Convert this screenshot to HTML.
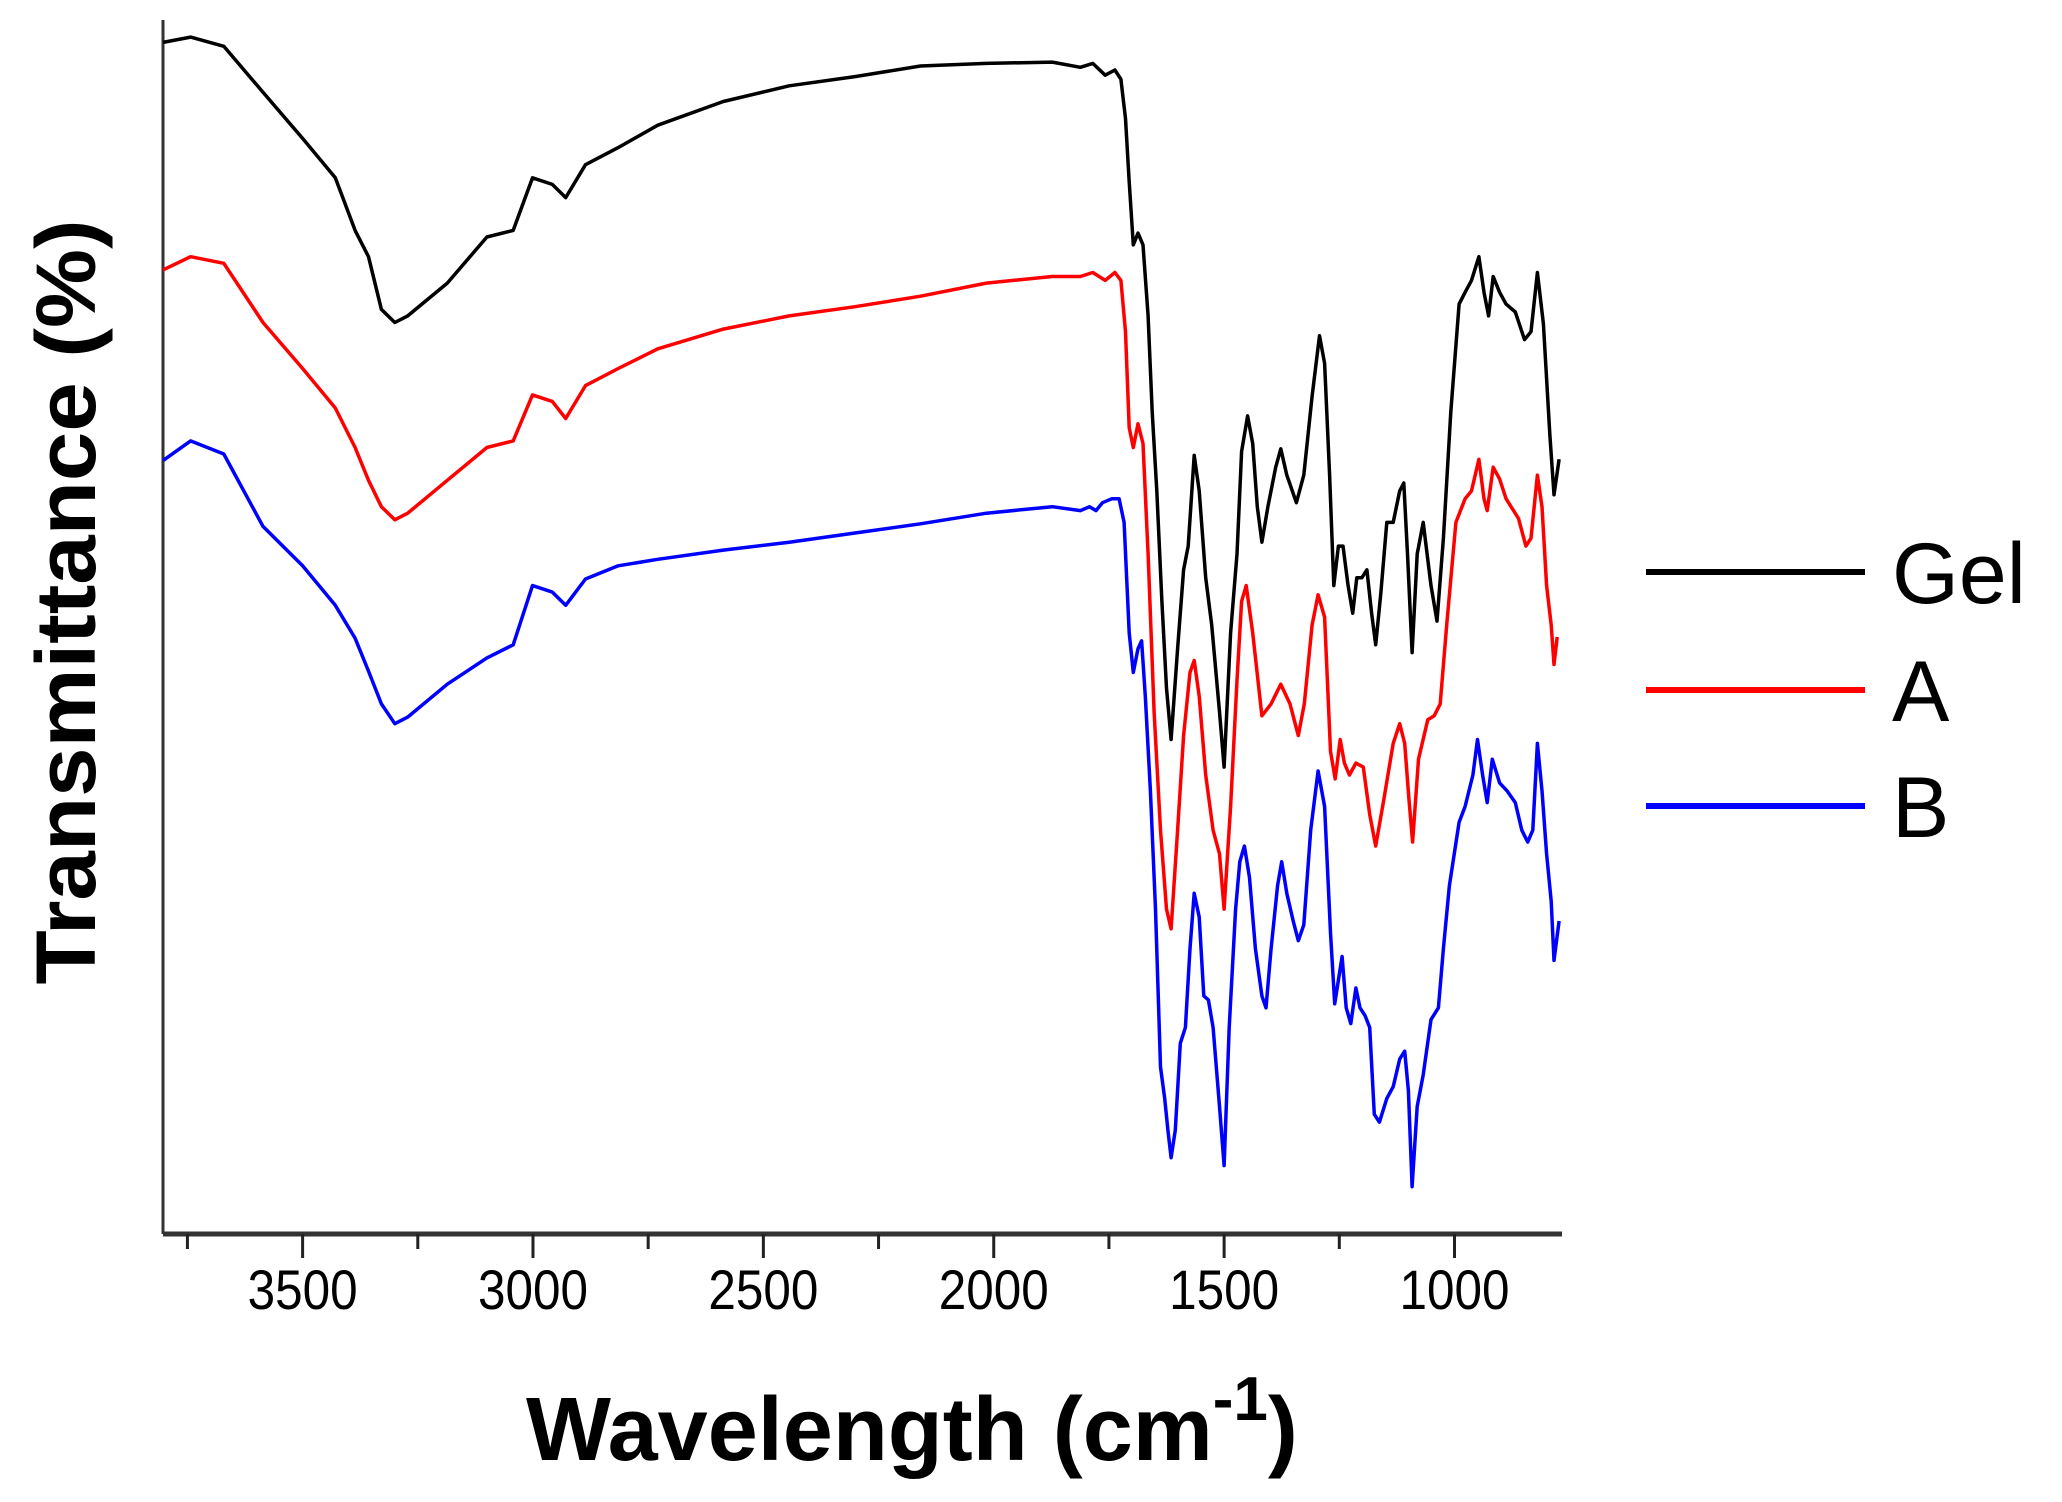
<!DOCTYPE html>
<html><head><meta charset="utf-8"><style>
html,body{margin:0;padding:0;background:#fff;}
svg{display:block;}
text{font-family:"Liberation Sans",Arial,sans-serif;}
</style></head><body>
<svg id="chart" width="2062" height="1502" viewBox="0 0 2062 1502" xmlns="http://www.w3.org/2000/svg">
<g id="axes"></g>
<g id="series"></g>
<text transform="translate(95,602) rotate(-90)" text-anchor="middle" font-weight="bold" font-size="84" textLength="765" lengthAdjust="spacingAndGlyphs">Transmittance (%)</text>
<text x="526" y="1460" font-weight="bold" font-size="90">Wavelength (cm<tspan dy="-40" font-size="62">-1</tspan><tspan dy="40">)</tspan></text>
<g>
  <line x1="1646" y1="572" x2="1865" y2="572" stroke="#000" stroke-width="6"/>
  <text x="1892" y="603" font-size="86">Gel</text>
  <line x1="1646" y1="690" x2="1865" y2="690" stroke="#ff0000" stroke-width="6"/>
  <text x="1892" y="721" font-size="86">A</text>
  <line x1="1646" y1="806" x2="1865" y2="806" stroke="#0000ff" stroke-width="6"/>
  <text x="1892" y="837" font-size="86">B</text>
</g>
</svg>
<script>
const xTicks = [3500, 3000, 2500, 2000, 1500, 1000];
const xTickLabels = ["3500", "3000", "2500", "2000", "1500", "1000"];
const xMinorTicks = [3750, 3250, 2750, 2250, 1750, 1250];

const gelWn = [3803,3743,3671,3586,3500,3429,3386,3357,3329,3300,3272,3186,3100,3043,3001,2958,2929,2886,2815,2729,2587,2444,2301,2159,2016,1873,
1812,1785,1758,1737,1724,1714,1706,1697,1687,1676,1665,1656,1646,1635,1625,1615,1601,1588,1578,1565,1554,1540,1527,1510,1500,1486,1472,1462,1449,1438,1428,1418,1405,1388,1377,1364,1343,1327,1309,1293,1282,1271,1262,1252,1242,1231,1221,1212,1201,1190,1180,1171,1160,1147,1133,1119,1110,1102,1092,1081,1068,1051,1038,1024,1008,990,977,963,947,936,926,916,902,888,868,848,834,820,807,793,784,773];
const gelT = [96.8,97.2,96.5,93.0,89.5,86.5,82.5,80.5,76.5,75.5,76.0,78.5,82.0,82.5,86.5,86.0,85.0,87.5,88.8,90.5,92.3,93.5,94.2,95.0,95.2,95.3,
94.9,95.2,94.3,94.7,94.0,91.0,86.2,81.4,82.3,81.4,76.0,68.7,62.7,54.3,47.7,43.8,50.7,56.7,58.5,65.4,62.7,56.1,52.5,45.9,41.7,51.9,57.9,65.7,68.4,66.3,61.5,58.8,61.5,64.5,65.9,63.9,61.8,63.9,69.9,74.5,72.4,63.9,55.5,58.5,58.5,55.5,53.4,56.1,56.1,56.7,53.4,51.0,54.9,60.3,60.3,62.7,63.3,57.9,50.4,57.9,60.3,55.5,52.8,59.1,68.7,76.9,77.8,78.7,80.5,77.8,76.0,79.0,77.8,76.9,76.3,74.2,74.8,79.3,75.4,66.9,62.4,65.1];

const aWn = [3803,3743,3671,3586,3500,3429,3386,3357,3329,3300,3272,3186,3100,3043,3001,2958,2929,2886,2815,2729,2587,2444,2301,2159,2016,1873,
1812,1785,1758,1737,1724,1714,1706,1697,1687,1676,1665,1652,1638,1625,1615,1601,1588,1574,1565,1554,1540,1524,1510,1500,1486,1472,1462,1452,1438,1418,1398,1377,1357,1339,1326,1309,1296,1282,1269,1259,1248,1239,1228,1214,1198,1184,1171,1153,1133,1119,1108,1099,1091,1078,1058,1044,1031,1017,997,977,963,947,936,929,916,902,888,861,845,834,820,810,800,790,784,777];
const aT = [79.5,80.5,80.0,75.5,72.0,69.0,66.0,63.5,61.5,60.5,61.0,63.5,66.0,66.5,70.0,69.5,68.2,70.7,72.0,73.5,75.0,76.0,76.7,77.5,78.5,79.0,
79.0,79.3,78.7,79.3,78.7,74.8,67.5,66.0,67.8,66.3,57.9,45.9,36.9,30.9,29.4,36.9,44.1,48.9,49.8,47.1,41.1,36.9,35.1,30.9,38.7,48.3,54.3,55.5,51.9,45.6,46.5,48.0,46.5,44.1,46.5,52.5,54.8,53.1,42.9,40.8,43.8,42.0,41.1,42.0,41.7,38.1,35.7,39.3,43.5,45.0,43.5,39.3,36.0,42.3,45.3,45.6,46.5,52.5,60.3,62.1,62.7,65.1,62.1,61.2,64.5,63.6,62.1,60.6,58.5,59.1,63.9,61.5,55.5,52.5,49.5,51.6];

const bWn = [3803,3743,3671,3586,3500,3429,3386,3357,3329,3300,3272,3186,3100,3043,3001,2958,2929,2886,2815,2729,2587,2444,2301,2159,2016,1873,
1812,1792,1778,1764,1744,1728,1717,1706,1697,1687,1679,1671,1660,1649,1638,1629,1622,1615,1606,1595,1584,1574,1565,1554,1544,1534,1524,1510,1500,1489,1475,1466,1456,1445,1432,1418,1409,1398,1384,1375,1364,1350,1339,1327,1312,1296,1282,1269,1260,1252,1244,1235,1225,1214,1205,1194,1184,1174,1163,1147,1133,1119,1108,1100,1092,1081,1068,1051,1035,1024,1011,990,977,960,950,939,929,918,902,886,868,854,841,830,820,810,800,790,784,773];
const bT = [65.0,66.5,65.5,60.0,57.0,54.0,51.5,49.0,46.5,45.0,45.5,48.0,50.0,51.0,55.5,55.0,54.0,56.0,57.0,57.5,58.2,58.8,59.5,60.2,61.0,61.5,
61.2,61.5,61.2,61.8,62.1,62.1,60.3,51.9,48.9,50.7,51.3,47.1,39.9,30.9,18.9,16.5,14.1,12.0,14.1,20.7,21.9,27.9,32.1,30.3,24.3,24.0,21.9,15.9,11.4,21.9,30.9,34.5,35.7,33.3,27.9,24.3,23.4,27.9,32.7,34.5,32.1,30.0,28.5,29.7,36.9,41.4,38.7,29.1,23.7,25.5,27.3,23.4,22.2,24.9,23.4,22.8,21.9,15.3,14.7,16.5,17.4,19.5,20.1,17.1,9.8,15.9,18.3,22.5,23.4,27.9,32.7,37.5,38.7,41.1,43.8,41.1,39.0,42.3,40.5,39.9,39.0,36.9,36.0,36.9,43.5,39.9,35.1,31.5,27.0,30.0];

const NS = "http://www.w3.org/2000/svg";
const X0 = 163, X1 = 1560, W0 = 3803, W1 = 771;
const Y0 = 1234, Y1 = 20, V0 = 6.2, V1 = 98.5;
function xScale(w){ return X0 + (W0 - w) / (W0 - W1) * (X1 - X0); }
function yScale(v){ return Y0 - (v - V0) / (V1 - V0) * (Y0 - Y1); }

const axes = document.getElementById('axes');
function mk(tag, attrs, parent){
  const el = document.createElementNS(NS, tag);
  for (const k in attrs) el.setAttribute(k, attrs[k]);
  parent.appendChild(el);
  return el;
}
const yAxis = mk('line', {x1:X0, y1:Y1, x2:X0, y2:Y0, stroke:'#333', 'stroke-width':3}, axes);


const xAxis = mk('line', {x1:X0, y1:Y0, x2:1562, y2:Y0, stroke:'#333', 'stroke-width':5}, axes);


xTicks.forEach((t, i) => {
  const x = xScale(t);
  const tk = mk('line', {x1:x, y1:Y0, x2:x, y2:Y0 + 24, stroke:'#222', 'stroke-width':3}, axes);
  
  
  const lb = mk('text', {x:x - 55, y:1309, 'font-size':56, textLength:110, lengthAdjust:'spacingAndGlyphs'}, axes);
  lb.textContent = xTickLabels[i];
  
  
});
xMinorTicks.forEach(t => {
  const x = xScale(t);
  const tk = mk('line', {x1:x, y1:Y0, x2:x, y2:Y0 + 15, stroke:'#222', 'stroke-width':3}, axes);
  
  
});

const sg = document.getElementById('series');
function drawSeries(wn, vals, color, name){
  let d = '';
  for (let i = 0; i < wn.length; i++){
    d += (i ? 'L' : 'M') + xScale(wn[i]).toFixed(1) + ' ' + yScale(vals[i]).toFixed(1);
  }
  const p = mk('path', {d:d, fill:'none', stroke:color, 'stroke-width':3.5, 'stroke-linejoin':'round'}, sg);
  
  
}
drawSeries(gelWn, gelT, '#000000', 'series-gel');
drawSeries(aWn, aT, '#ff0000', 'series-a');
drawSeries(bWn, bT, '#0000ff', 'series-b');
</script>
</body></html>
